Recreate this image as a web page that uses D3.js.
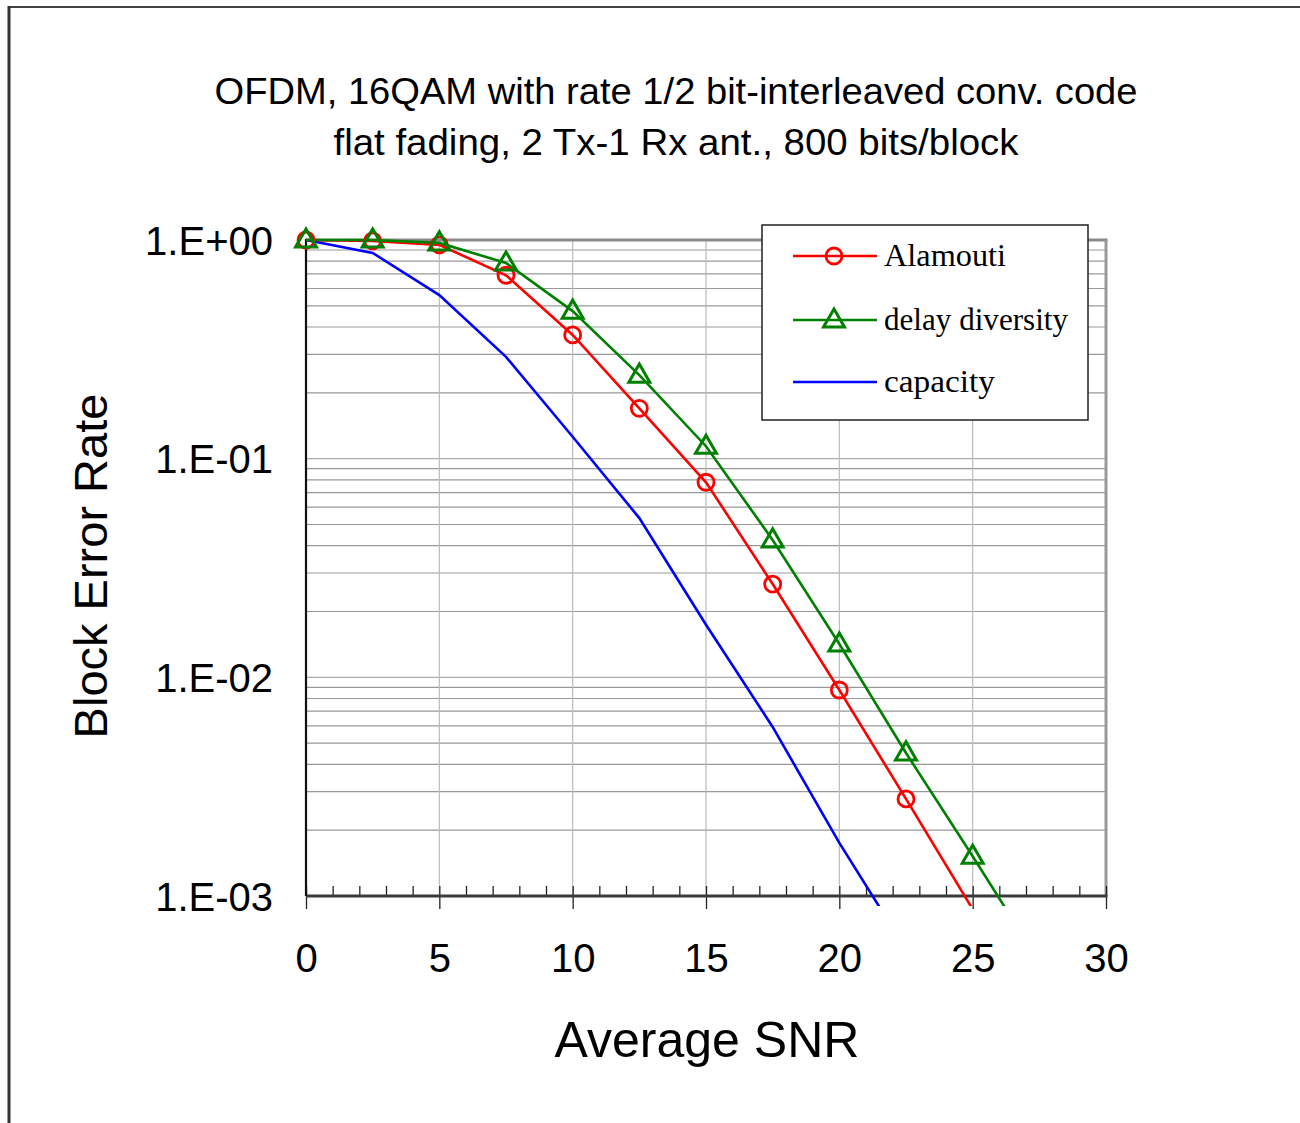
<!DOCTYPE html>
<html><head><meta charset="utf-8">
<script src="https://cdn.jsdelivr.net/npm/d3@7"></script>
<style>body{margin:0;background:#fff} svg{display:block}</style>
</head><body><svg id="c" width="1300" height="1123"></svg>
<script>
// ---- data ----
const titleLines = ["OFDM, 16QAM with rate 1/2 bit-interleaved conv. code", "flat fading, 2 Tx-1 Rx ant., 800 bits/block"];
const xLabel = "Average SNR";
const yLabel = "Block Error Rate";
const snr = [0, 2.5, 5, 7.5, 10, 12.5, 15, 17.5, 20, 22.5, 25, 27.5];
const alamouti = [1.0, 0.99, 0.95, 0.69, 0.368, 0.17, 0.078, 0.0267, 0.00875, 0.00278, 0.00087];
const delayDiversity = [1.0, 1.0, 0.97, 0.785, 0.473, 0.241, 0.114, 0.0425, 0.0142, 0.00451, 0.00152, 0.0005];
const capacity = [1.0, 0.872, 0.56, 0.292, 0.126, 0.0535, 0.0174, 0.00593, 0.00175, 0.00057];
const seriesNames = ["Alamouti", "delay diversity", "capacity"];
const xTicks = [0, 5, 10, 15, 20, 25, 30];
const yTicks = [1, 0.1, 0.01, 0.001];
const yTickLabels = ["1.E+00", "1.E-01", "1.E-02", "1.E-03"];

// ---- layout ----
const svg = d3.select("#c");
const L = 306, R = 1106, T = 240, B = 896;
const x = d3.scaleLinear().domain([0, 30]).range([L, R]);
const y = d3.scaleLog().domain([0.001, 1]).range([B, T]);
const sans = "'Liberation Sans', Arial, Helvetica, sans-serif";
const serif = "'Liberation Serif', 'Times New Roman', serif";

// outer frame
svg.append("line").attr("x1", 8).attr("x2", 1300).attr("y1", 7).attr("y2", 7).attr("stroke", "#444").attr("stroke-width", 2);
svg.append("line").attr("x1", 9).attr("x2", 9).attr("y1", 6).attr("y2", 1123).attr("stroke", "#333").attr("stroke-width", 3);

// titles
const tw = [923, 685];
titleLines.forEach((t, i) => {
  svg.append("text").attr("x", 676).attr("y", 104 + i * 51).attr("text-anchor", "middle")
    .attr("font-family", sans).attr("font-size", 37).attr("fill", "#000")
    .attr("textLength", tw[i]).attr("lengthAdjust", "spacingAndGlyphs").text(t);
});

// horizontal gridlines (log minors)
const hGrid = [];
for (let e = -3; e < 0; e++) for (let k = 1; k <= 9; k++) hGrid.push(k * Math.pow(10, e));
svg.append("g").selectAll("line").data(hGrid).join("line")
  .attr("x1", L).attr("x2", R).attr("y1", d => y(d)).attr("y2", d => y(d))
  .attr("stroke", (d, i) => (i % 9 === 0 ? "#aaa" : "#999")).attr("stroke-width", 1.2);
// vertical gridlines
svg.append("g").selectAll("line").data(xTicks.slice(1, -1)).join("line")
  .attr("x1", d => x(d)).attr("x2", d => x(d)).attr("y1", T).attr("y2", B)
  .attr("stroke", "#bbb").attr("stroke-width", 1.2);

// plot border top & right (gray)
svg.append("line").attr("x1", L).attr("x2", R + 1.5).attr("y1", T).attr("y2", T).attr("stroke", "#8a8a8a").attr("stroke-width", 3);
svg.append("line").attr("x1", R).attr("x2", R).attr("y1", T).attr("y2", B).attr("stroke", "#999").attr("stroke-width", 3);

// x axis: major ticks + labels
const gx = svg.append("g").attr("transform", `translate(0,${B})`)
  .call(d3.axisBottom(x).tickValues(xTicks).tickSizeInner(13).tickSizeOuter(0).tickFormat(d3.format("d")));
gx.select(".domain").remove();
gx.selectAll(".tick line").attr("y1", -10).attr("stroke", "#222").attr("stroke-width", 1.3);
gx.selectAll(".tick text").attr("y", 76).attr("dy", null).attr("font-family", sans).attr("font-size", 40).attr("fill", "#000");
// minor ticks (inside)
const minor = d3.range(1, 30).filter(v => v % 5 !== 0);
const gxm = svg.append("g").attr("transform", `translate(0,${B})`)
  .call(d3.axisBottom(x).tickValues(minor).tickSizeInner(-10).tickSizeOuter(0).tickFormat(""));
gxm.select(".domain").remove();
gxm.selectAll(".tick line").attr("stroke", "#222").attr("stroke-width", 1.3);
// axis line bottom
svg.append("line").attr("x1", L).attr("x2", R + 1.5).attr("y1", B).attr("y2", B).attr("stroke", "#3a3a3a").attr("stroke-width", 3);

// y axis
const gy = svg.append("g").attr("transform", `translate(${L},0)`)
  .call(d3.axisLeft(y).tickValues(yTicks).tickSize(0).tickFormat((d, i) => yTickLabels[i]));
gy.select(".domain").remove();
gy.selectAll(".tick text").attr("x", -33).attr("dy", "0.35em").attr("font-family", sans).attr("font-size", 40).attr("fill", "#000");
svg.append("line").attr("x1", L).attr("x2", L).attr("y1", T - 1).attr("y2", B).attr("stroke", "#111").attr("stroke-width", 2.2);

// axis titles
svg.append("text").attr("x", 707).attr("y", 1057).attr("text-anchor", "middle")
  .attr("font-family", sans).attr("font-size", 50).attr("fill", "#000").text(xLabel);
svg.append("text").attr("transform", "translate(107,566) rotate(-90)").attr("text-anchor", "middle")
  .attr("font-family", sans).attr("font-size", 47).attr("fill", "#000").text(yLabel);

// clip
svg.append("clipPath").attr("id", "clip").append("rect").attr("x", L - 5).attr("y", 0).attr("width", R - L + 10).attr("height", 906);

const line = d3.line().x((d, i) => x(snr[i])).y(d => y(d));
const series = [
  { name: seriesNames[0], data: alamouti, color: "#ff0000", marker: "circle" },
  { name: seriesNames[1], data: delayDiversity, color: "#008000", marker: "triangle" },
  { name: seriesNames[2], data: capacity, color: "#0000ff", marker: null }
];
const tri = d3.symbol().type(d3.symbolTriangle).size(190);

function drawMarker(g, type, color, cx, cy) {
  if (type === "circle") {
    g.append("circle").attr("cx", cx).attr("cy", cy).attr("r", 8).attr("fill", "none")
      .attr("stroke", color).attr("stroke-width", 2.8);
  } else if (type === "triangle") {
    g.append("path").attr("d", tri()).attr("transform", `translate(${cx},${cy + 1})`)
      .attr("fill", "none").attr("stroke", color).attr("stroke-width", 3);
  }
}

// draw capacity first, then alamouti, then delay diversity
[series[2], series[0], series[1]].forEach(s => {
  svg.append("path").datum(s.data).attr("d", line).attr("fill", "none")
    .attr("stroke", s.color).attr("stroke-width", 2.6).attr("clip-path", "url(#clip)");
});
[series[0], series[1]].forEach(s => {
  const g = svg.append("g");
  s.data.forEach((v, i) => {
    if (v >= 0.001) drawMarker(g, s.marker, s.color, x(snr[i]), y(v));
  });
});

// legend
const lg = svg.append("g");
lg.append("rect").attr("x", 762).attr("y", 225).attr("width", 326).attr("height", 195)
  .attr("fill", "#fff").attr("stroke", "#222").attr("stroke-width", 1.5);
const rowsY = [256, 320, 382];
const textW = [122, 184, 111];
series.forEach((s, i) => {
  lg.append("line").attr("x1", 793).attr("x2", 877).attr("y1", rowsY[i]).attr("y2", rowsY[i])
    .attr("stroke", s.color).attr("stroke-width", 2.6);
  drawMarker(lg, s.marker, s.color, 834, rowsY[i]);
  lg.append("text").attr("x", 884).attr("y", rowsY[i] + 10).attr("font-family", serif).attr("font-size", 31)
    .attr("fill", "#000").attr("textLength", textW[i]).attr("lengthAdjust", "spacingAndGlyphs").text(s.name);
});
</script></body></html>
